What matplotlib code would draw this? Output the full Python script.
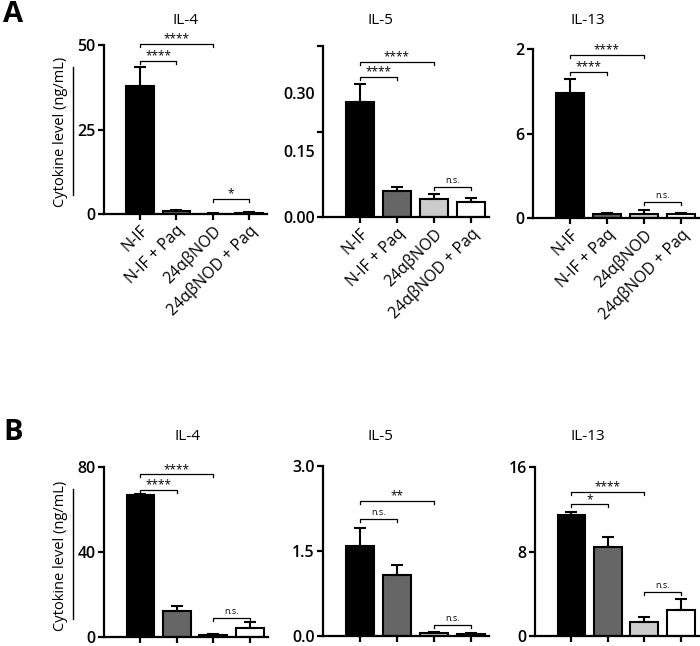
import matplotlib
matplotlib.use("Agg")
import matplotlib.pyplot as plt
from matplotlib.lines import Line2D

plt.rcParams['font.family'] = ['Open Sans', 'DejaVu Sans']

groups = ["N-IF", "N-IF + Paq", "24αβNOD", "24αβNOD + Paq"]
bar_colors = ["black", "#666666", "#cccccc", "white"]

# panel A
a_il4 = [37.8, 1.0, 0.1, 0.4]
a_il4_err = [5.8, 0.2, 0.05, 0.15]
a_il5 = [0.268, 0.060, 0.043, 0.036]
a_il5_err = [0.043, 0.011, 0.011, 0.009]
a_il13 = [8.9, 0.25, 0.3, 0.25]
a_il13_err = [1.0, 0.08, 0.3, 0.08]

# panel B
b_il4 = [67.0, 12.2, 1.0, 4.2]
b_il4_err = [0.3, 2.4, 0.3, 2.8]
b_il5 = [1.58, 1.07, 0.05, 0.04]
b_il5_err = [0.33, 0.19, 0.02, 0.015]
b_il13 = [11.5, 8.47, 1.35, 2.5]
b_il13_err = [0.2, 0.88, 0.47, 1.0]

# significance brackets: (from, to, height, label)
a_il4_sig = [(0, 1, 45.3, "****"), (0, 2, 50.3, "****"), (2, 3, 4.4, "*")]
a_il5_sig = [(0, 1, 0.328, "****"), (0, 2, 0.363, "****"), (2, 3, 0.071, "n.s.")]
a_il13_sig = [(0, 1, 10.4, "****"), (0, 2, 11.6, "****"), (2, 3, 1.14, "n.s.")]
b_il4_sig = [(0, 1, 69, "****"), (0, 2, 76.5, "****"), (2, 3, 8.8, "n.s.")]
b_il5_sig = [(0, 1, 2.07, "n.s."), (0, 2, 2.39, "**"), (2, 3, 0.2, "n.s.")]
b_il13_sig = [(0, 1, 12.45, "*"), (0, 2, 13.65, "****"), (2, 3, 4.14, "n.s.")]

W, H = 700, 646
fig = plt.figure(figsize=(W / 100, H / 100), dpi=100)


def make_ax(x0, x1, ytop, ybot):
    return fig.add_axes([x0 / W, 1 - ybot / H, (x1 - x0) / W, (ybot - ytop) / H])


def draw(ax, vals, errs, sig, ymax, ticks, ticklabels, xlabels, label_pos=None):
    x = range(len(vals))
    ax.bar(x, vals, width=0.76, color=bar_colors, edgecolor="black", linewidth=1.5,
           yerr=[[0] * len(errs), errs], capsize=4.5,
           error_kw=dict(elinewidth=1.5, capthick=1.5, ecolor="black"), zorder=2)
    ax.set_xlim(-1.0, 3.5)
    ax.set_ylim(0, ymax)
    for s in ["top", "right"]:
        ax.spines[s].set_visible(False)
    for s in ["left", "bottom"]:
        ax.spines[s].set_linewidth(1.6)
    if label_pos is None:
        ax.set_yticks(ticks)
        ax.set_yticklabels(ticklabels, fontsize=11.5, fontweight="semibold")
        ax.tick_params(axis="y", length=4, width=1.6, pad=2)
    else:
        # labels sit off the tick marks in the original figure
        ax.set_yticks(label_pos)
        ax.set_yticklabels(ticklabels, fontsize=11.5, fontweight="semibold")
        ax.tick_params(axis="y", which="major", length=0, pad=6)
        ax.set_yticks(ticks, minor=True)
        ax.tick_params(axis="y", which="minor", length=4, width=1.6)
    ax.set_xticks(list(x))
    if xlabels:
        ax.set_xticklabels(groups, rotation=45, ha="right", rotation_mode="anchor", fontsize=11.5)
    else:
        ax.set_xticklabels([])
    ax.tick_params(axis="x", length=4, width=1.6, pad=2)
    dy = ymax * 3.0 / ax.bbox.height
    for i, j, h, lab in sig:
        ax.plot([i, i, j, j], [h - dy, h, h, h - dy], color="black", lw=0.9, clip_on=False)
        fs = 6.5 if lab == "n.s." else 8.5
        off = 1.5 if lab == "n.s." else -1.0
        ax.annotate(lab, ((i + j) / 2, h), xytext=(0, off), textcoords="offset points",
                    ha="center", va="bottom", fontsize=fs, annotation_clip=False)


ax = make_ax(104, 267, 45, 214)
draw(ax, a_il4, a_il4_err, a_il4_sig, 50, [0, 25, 50], ["0", "25", "50"], True)
ax = make_ax(323, 489, 46, 217)
draw(ax, a_il5, a_il5_err, a_il5_sig, 0.4, [0.0005, 0.2, 0.4], ["0.00", "0.15", "0.30"], True,
     label_pos=[0, 0.155, 0.29])
ax = make_ax(533, 699, 49, 218)
draw(ax, a_il13, a_il13_err, a_il13_sig, 12, [0, 6, 12], ["0", "6", "2"], True)

ax = make_ax(104, 268, 467, 637)
draw(ax, b_il4, b_il4_err, b_il4_sig, 80, [0, 40, 80], ["0", "40", "80"], False)
ax = make_ax(323, 489, 466, 636)
draw(ax, b_il5, b_il5_err, b_il5_sig, 3.0, [0, 1.5, 3.0], ["0.0", "1.5", "3.0"], False)
ax = make_ax(535, 699, 467, 636)
draw(ax, b_il13, b_il13_err, b_il13_sig, 16, [0, 8, 16], ["0", "8", "16"], False)

# titles
for name, xp, yp in [("IL-4", 185, 20), ("IL-5", 380, 20), ("IL-13", 588, 20),
                     ("IL-4", 187, 437), ("IL-5", 380, 437), ("IL-13", 588, 437)]:
    fig.text(xp / W, 1 - yp / H, name, ha="center", va="center", fontsize=11)

# y labels with their side lines
for yc, y0, y1 in [(132, 67, 195), (556, 489, 619)]:
    fig.text(60 / W, 1 - yc / H, "Cytokine level (ng/mL)", rotation=90,
             ha="center", va="center", fontsize=10.5)
    fig.add_artist(Line2D([73 / W, 73 / W], [1 - y0 / H, 1 - y1 / H], color="black", lw=1.0))

fig.text(3 / W, 1 - 15 / H, "A", fontsize=21, fontweight="bold", ha="left", va="center")
fig.text(3 / W, 1 - 432 / H, "B", fontsize=21, fontweight="bold", ha="left", va="center")

fig.savefig("out.png", dpi=100)
